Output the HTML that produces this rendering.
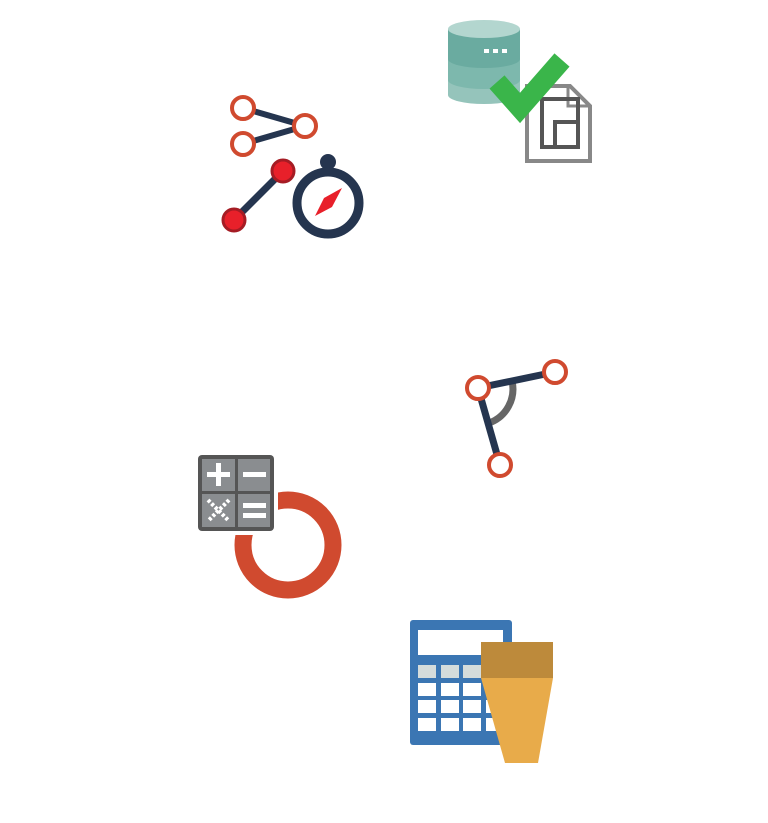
<!DOCTYPE html>
<html><head><style>html,body{margin:0;padding:0;background:#fff;}svg{display:block}</style></head>
<body>
<svg width="768" height="823" viewBox="0 0 768 823" xmlns="http://www.w3.org/2000/svg">
<!-- database -->
<path d="M448 29 V95 A36 9 0 0 0 520 95 V29 Z" fill="#95c4bb"/>
<path d="M448 29 V80 A36 9 0 0 0 520 80 V29 Z" fill="#7db8ad"/>
<path d="M448 29 V59 A36 9 0 0 0 520 59 V29 Z" fill="#6aaba0"/>
<ellipse cx="484" cy="29" rx="36" ry="9" fill="#b3d6cf"/>
<rect x="484" y="49" width="5" height="4" fill="#fff"/><rect x="493" y="49" width="5" height="4" fill="#fff"/><rect x="502" y="49" width="5" height="4" fill="#fff"/>
<!-- document -->
<path d="M527 86 H570 L590 106 V161 H527 Z" fill="#fff" stroke="#888" stroke-width="4"/>
<path d="M568 86 V106 H590" fill="none" stroke="#888" stroke-width="3"/>
<rect x="542" y="99" width="36" height="48" fill="none" stroke="#555" stroke-width="4"/>
<rect x="555" y="122" width="23" height="25" fill="none" stroke="#555" stroke-width="4"/>
<!-- check -->
<polyline points="497,82 520,108 562,60" fill="none" stroke="#3ab54a" stroke-width="20"/>
<!-- share -->
<g stroke="#25354f" stroke-width="6"><line x1="243" y1="108" x2="305" y2="126"/><line x1="243" y1="144" x2="305" y2="126"/><line x1="283" y1="171" x2="234" y2="220" stroke-width="7"/></g>
<g fill="#fff" stroke="#d04a2f" stroke-width="4"><circle cx="243" cy="108" r="11"/><circle cx="243" cy="144" r="11"/><circle cx="305" cy="126" r="11"/></g>
<g fill="#e8202a" stroke="#a51c24" stroke-width="3"><circle cx="283" cy="171" r="11"/><circle cx="234" cy="220" r="11"/></g>
<!-- compass -->
<circle cx="328" cy="162" r="8" fill="#25354f"/>
<circle cx="328" cy="203" r="31" fill="#fff" stroke="#25354f" stroke-width="9"/>
<polygon points="342,188 332,207 315,216 324,198" fill="#e8202a"/>
<!-- angle -->
<path d="M512 381 A36 36 0 0 1 489 423" fill="none" stroke="#666" stroke-width="7"/>
<g stroke="#25354f" stroke-width="7"><line x1="478" y1="388" x2="555" y2="372"/><line x1="478" y1="388" x2="500" y2="465"/></g>
<g fill="#fff" stroke="#d04a2f" stroke-width="4"><circle cx="478" cy="388" r="11"/><circle cx="555" cy="372" r="11"/><circle cx="500" cy="465" r="11"/></g>
<!-- donut + calc -->
<circle cx="288" cy="545" r="45" fill="none" stroke="#d04a2f" stroke-width="17"/>
<rect x="194" y="451" width="84" height="84" fill="#fff"/>
<rect x="198" y="455" width="76" height="76" rx="4" fill="#555"/>
<g fill="#8a8d90"><rect x="202" y="459" width="33" height="32"/><rect x="238" y="459" width="32" height="32"/><rect x="202" y="494" width="33" height="33"/><rect x="238" y="494" width="32" height="33"/></g>
<g fill="#fff"><rect x="207" y="472" width="23" height="5"/><rect x="216" y="463" width="5" height="23"/><rect x="243" y="472" width="23" height="5"/><rect x="243" y="503" width="23" height="5"/><rect x="243" y="513" width="23" height="5"/></g>
<g stroke="#fff" stroke-width="4" stroke-dasharray="3 2"><line x1="208" y1="500" x2="229" y2="521"/><line x1="229" y1="500" x2="208" y2="521"/></g>
<!-- blue calculator -->
<rect x="410" y="620" width="102" height="125" rx="3" fill="#3b76b3"/>
<rect x="418" y="630" width="85" height="25" fill="#fff"/>
<g fill="#d5dcdb"><rect x="418" y="665" width="18" height="13"/><rect x="441" y="665" width="18" height="13"/><rect x="463" y="665" width="18" height="13"/><rect x="486" y="665" width="17" height="13"/></g>
<g fill="#fff">
<rect x="418" y="683" width="18" height="13"/><rect x="441" y="683" width="18" height="13"/><rect x="463" y="683" width="18" height="13"/><rect x="486" y="683" width="17" height="13"/>
<rect x="418" y="700" width="18" height="13"/><rect x="441" y="700" width="18" height="13"/><rect x="463" y="700" width="18" height="13"/><rect x="486" y="700" width="17" height="13"/>
<rect x="418" y="718" width="18" height="13"/><rect x="441" y="718" width="18" height="13"/><rect x="463" y="718" width="18" height="13"/><rect x="486" y="718" width="17" height="13"/>
</g>
<!-- cone -->
<rect x="481" y="642" width="72" height="36" fill="#bd8a3b"/>
<polygon points="481,678 553,678 538,763 505,763" fill="#e8ab4a"/>
</svg>
</body></html>
